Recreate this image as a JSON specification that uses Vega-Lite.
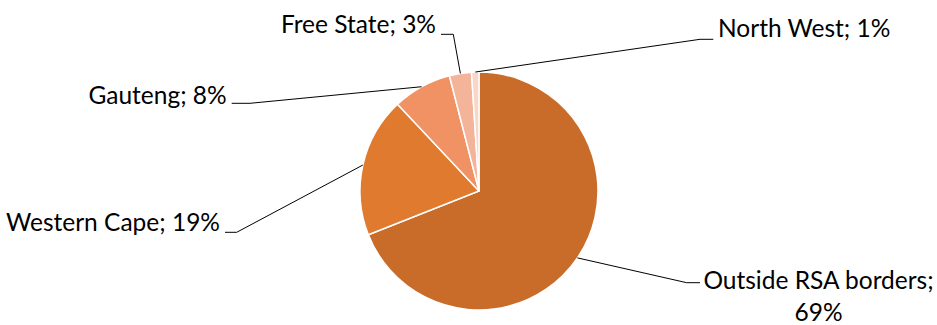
{
  "$schema": "https://vega.github.io/schema/vega-lite/v6.json",
  "width": 937,
  "height": 325,
  "autosize": {"type": "none"},
  "padding": 0,
  "background": "white",
  "config": {"view": {"stroke": null}},
  "datasets": {
    "shares": [
      {"region": "Outside RSA borders", "share": 69, "rank": 1},
      {"region": "Western Cape", "share": 19, "rank": 2},
      {"region": "Gauteng", "share": 8, "rank": 3},
      {"region": "Free State", "share": 3, "rank": 4},
      {"region": "North West", "share": 1, "rank": 5}
    ],
    "callouts": [
      {"region": "Outside RSA borders", "elbowX": 207.7, "elbowY": -91.7, "endX": 221, "textX": 339.5, "textY": -98.3, "align": "center", "wrap": true},
      {"region": "Western Cape", "elbowX": -242.3, "elbowY": -41.3, "endX": -254, "textX": -259, "textY": -39.7, "align": "right", "wrap": false},
      {"region": "Gauteng", "elbowX": -229, "elbowY": 87.7, "endX": -247.3, "textX": -252.3, "textY": 87, "align": "right", "wrap": false},
      {"region": "Free State", "elbowX": -25.7, "elbowY": 156.7, "endX": -38, "textX": -43, "textY": 157.7, "align": "right", "wrap": false},
      {"region": "North West", "elbowX": 221, "elbowY": 151.7, "endX": 234.3, "textX": 239, "textY": 154.3, "align": "left", "wrap": false}
    ]
  },
  "layer": [
    {
      "data": {"name": "shares"},
      "mark": {"type": "arc", "outerRadius": 119, "stroke": "white", "strokeWidth": 1.5},
      "encoding": {
        "theta": {"field": "share", "type": "quantitative", "stack": true},
        "order": {"field": "rank", "type": "quantitative"},
        "color": {
          "field": "region",
          "type": "nominal",
          "scale": {
            "domain": ["Outside RSA borders", "Western Cape", "Gauteng", "Free State", "North West"],
            "range": ["#C96B29", "#E07A2F", "#F09264", "#F4B49A", "#F9D6C8"]
          },
          "legend": null
        },
        "x": {"datum": 0, "type": "quantitative", "scale": {"domain": [-479, 458], "nice": false, "zero": false}, "axis": null},
        "y": {"datum": 0, "type": "quantitative", "scale": {"domain": [-134, 191], "nice": false, "zero": false}, "axis": null}
      }
    },
    {
      "data": {"name": "shares"},
      "transform": [
        {"window": [{"op": "sum", "field": "share", "as": "cum"}], "sort": [{"field": "rank"}], "frame": [null, 0]},
        {"joinaggregate": [{"op": "sum", "field": "share", "as": "total"}]},
        {"calculate": "2 * PI * (datum.cum - datum.share / 2) / datum.total", "as": "mid"},
        {"calculate": "119 * sin(datum.mid)", "as": "sx"},
        {"calculate": "119 * cos(datum.mid)", "as": "sy"},
        {"lookup": "region", "from": {"data": {"name": "callouts"}, "key": "region", "fields": ["elbowX", "elbowY"]}}
      ],
      "mark": {"type": "rule", "color": "#000000", "strokeWidth": 1},
      "encoding": {
        "x": {"field": "sx", "type": "quantitative", "scale": {"domain": [-479, 458], "nice": false, "zero": false}, "axis": null},
        "y": {"field": "sy", "type": "quantitative", "scale": {"domain": [-134, 191], "nice": false, "zero": false}, "axis": null},
        "x2": {"field": "elbowX"},
        "y2": {"field": "elbowY"}
      }
    },
    {
      "data": {"name": "callouts"},
      "mark": {"type": "rule", "color": "#000000", "strokeWidth": 1},
      "encoding": {
        "x": {"field": "elbowX", "type": "quantitative", "axis": null},
        "x2": {"field": "endX"},
        "y": {"field": "elbowY", "type": "quantitative", "axis": null}
      }
    },
    {
      "data": {"name": "callouts"},
      "transform": [
        {"lookup": "region", "from": {"data": {"name": "shares"}, "key": "region", "fields": ["share"]}},
        {"calculate": "datum.region + ';' + (datum.wrap ? '\\n' : ' ') + datum.share + '%'", "as": "label"}
      ],
      "mark": {
        "type": "text",
        "font": "Lato",
        "fontSize": 24.5,
        "color": "#000000",
        "baseline": "alphabetic",
        "align": {"expr": "datum.align"},
        "lineBreak": "\n",
        "lineHeight": 31.4
      },
      "encoding": {
        "x": {"field": "textX", "type": "quantitative", "axis": null},
        "y": {"field": "textY", "type": "quantitative", "axis": null},
        "text": {"field": "label"}
      }
    }
  ]
}
